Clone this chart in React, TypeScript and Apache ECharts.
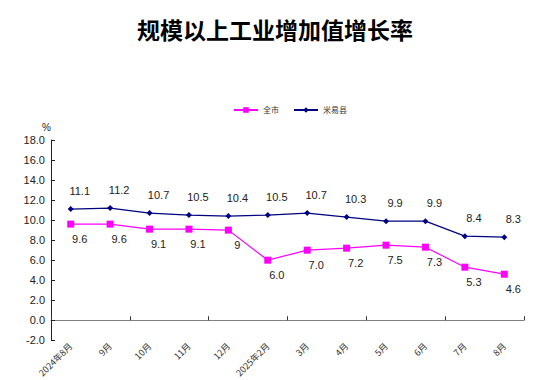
import React, { useEffect, useRef } from "react";
import * as echarts from "echarts";

const categories = ["2024年8月", "9月", "10月", "11月", "12月", "2025年2月", "3月", "4月", "5月", "6月", "7月", "8月"];
const cityValues = [9.6, 9.6, 9.1, 9.1, 9, 6.0, 7.0, 7.2, 7.5, 7.3, 5.3, 4.6];
const cityLabels = ["9.6", "9.6", "9.1", "9.1", "9", "6.0", "7.0", "7.2", "7.5", "7.3", "5.3", "4.6"];
const countyValues = [11.1, 11.2, 10.7, 10.5, 10.4, 10.5, 10.7, 10.3, 9.9, 9.9, 8.4, 8.3];
const countyLabels = ["11.1", "11.2", "10.7", "10.5", "10.4", "10.5", "10.7", "10.3", "9.9", "9.9", "8.4", "8.3"];
const seriesNames = ["全市", "米易县"];

export default function App() {
  const ref = useRef<HTMLDivElement>(null);
  useEffect(() => {
    const chart = echarts.init(ref.current!, null, { renderer: "svg" });
    const labelFont = { fontFamily: "Liberation Sans, Arial, sans-serif", fontSize: 11, color: "#222" };
    chart.setOption({
      animation: false,
      backgroundColor: "#fff",
      title: {
        text: "规模以上工业增加值增长率",
        left: "center",
        top: 12,
        textStyle: { fontFamily: "Noto Sans CJK SC", fontWeight: "bold", fontSize: 23, color: "#000" },
      },
      legend: {
        data: seriesNames,
        top: 101,
        left: 228,
        itemWidth: 24,
        itemHeight: 7,
        itemGap: 14,
        textStyle: { fontFamily: "Noto Sans CJK SC", fontSize: 8, color: "#333" },
      },
      grid: { left: 51, right: 26, top: 140, bottom: 36, containLabel: false },
      xAxis: [
        {
          type: "category",
          data: categories,
          position: "bottom",
          axisLine: { show: false, onZero: false },
          axisTick: { show: false },
          axisLabel: {
            rotate: 45,
            interval: 0,
            margin: 4,
            fontFamily: "Noto Sans CJK SC",
            fontSize: 9,
            color: "#333",
          },
        },
        {
          type: "category",
          data: categories,
          position: "bottom",
          axisLine: { show: true, onZero: true, lineStyle: { color: "#808080", width: 1 } },
          axisTick: { show: true, inside: true, length: 4, lineStyle: { color: "#333" } },
          axisLabel: { show: false },
        },
      ],
      yAxis: {
        type: "value",
        min: -2,
        max: 18,
        interval: 2,
        name: "%",
        nameLocation: "end",
        nameGap: 8,
        nameTextStyle: { fontFamily: "Liberation Sans, Arial, sans-serif", fontSize: 10, color: "#222", align: "right", padding: [0, 0, 0, 0] },
        axisLine: { show: true, onZero: false, lineStyle: { color: "#222", width: 1 } },
        axisTick: { show: true, inside: true, length: 4, lineStyle: { color: "#222" } },
        splitLine: { show: false },
        axisLabel: {
          formatter: (v: number) => v.toFixed(1),
          fontFamily: "Liberation Sans, Arial, sans-serif",
          fontSize: 11,
          color: "#222",
          margin: 6,
        },
      },
      series: [
        {
          name: seriesNames[0],
          type: "line",
          xAxisIndex: 0,
          data: cityValues,
          symbol: "rect",
          symbolSize: 7,
          color: "#FF00FF",
          lineStyle: { color: "#FF00FF", width: 1.2 },
          itemStyle: { color: "#FF00FF" },
          label: {
            show: true,
            position: "bottom",
            distance: 6,
            offset: [9, 0],
            formatter: (p: any) => cityLabels[p.dataIndex],
            ...labelFont,
          },
        },
        {
          name: seriesNames[1],
          type: "line",
          xAxisIndex: 0,
          data: countyValues,
          symbol: "diamond",
          symbolSize: 6,
          color: "#000080",
          lineStyle: { color: "#000080", width: 1.2 },
          itemStyle: { color: "#000080" },
          label: {
            show: true,
            position: "top",
            distance: 6,
            offset: [9, -4],
            formatter: (p: any) => countyLabels[p.dataIndex],
            ...labelFont,
          },
        },
      ],
    });
    return () => chart.dispose();
  }, []);
  return <div ref={ref} style={{ width: 550, height: 380, position: "absolute", left: 0, top: 0 }} />;
}
